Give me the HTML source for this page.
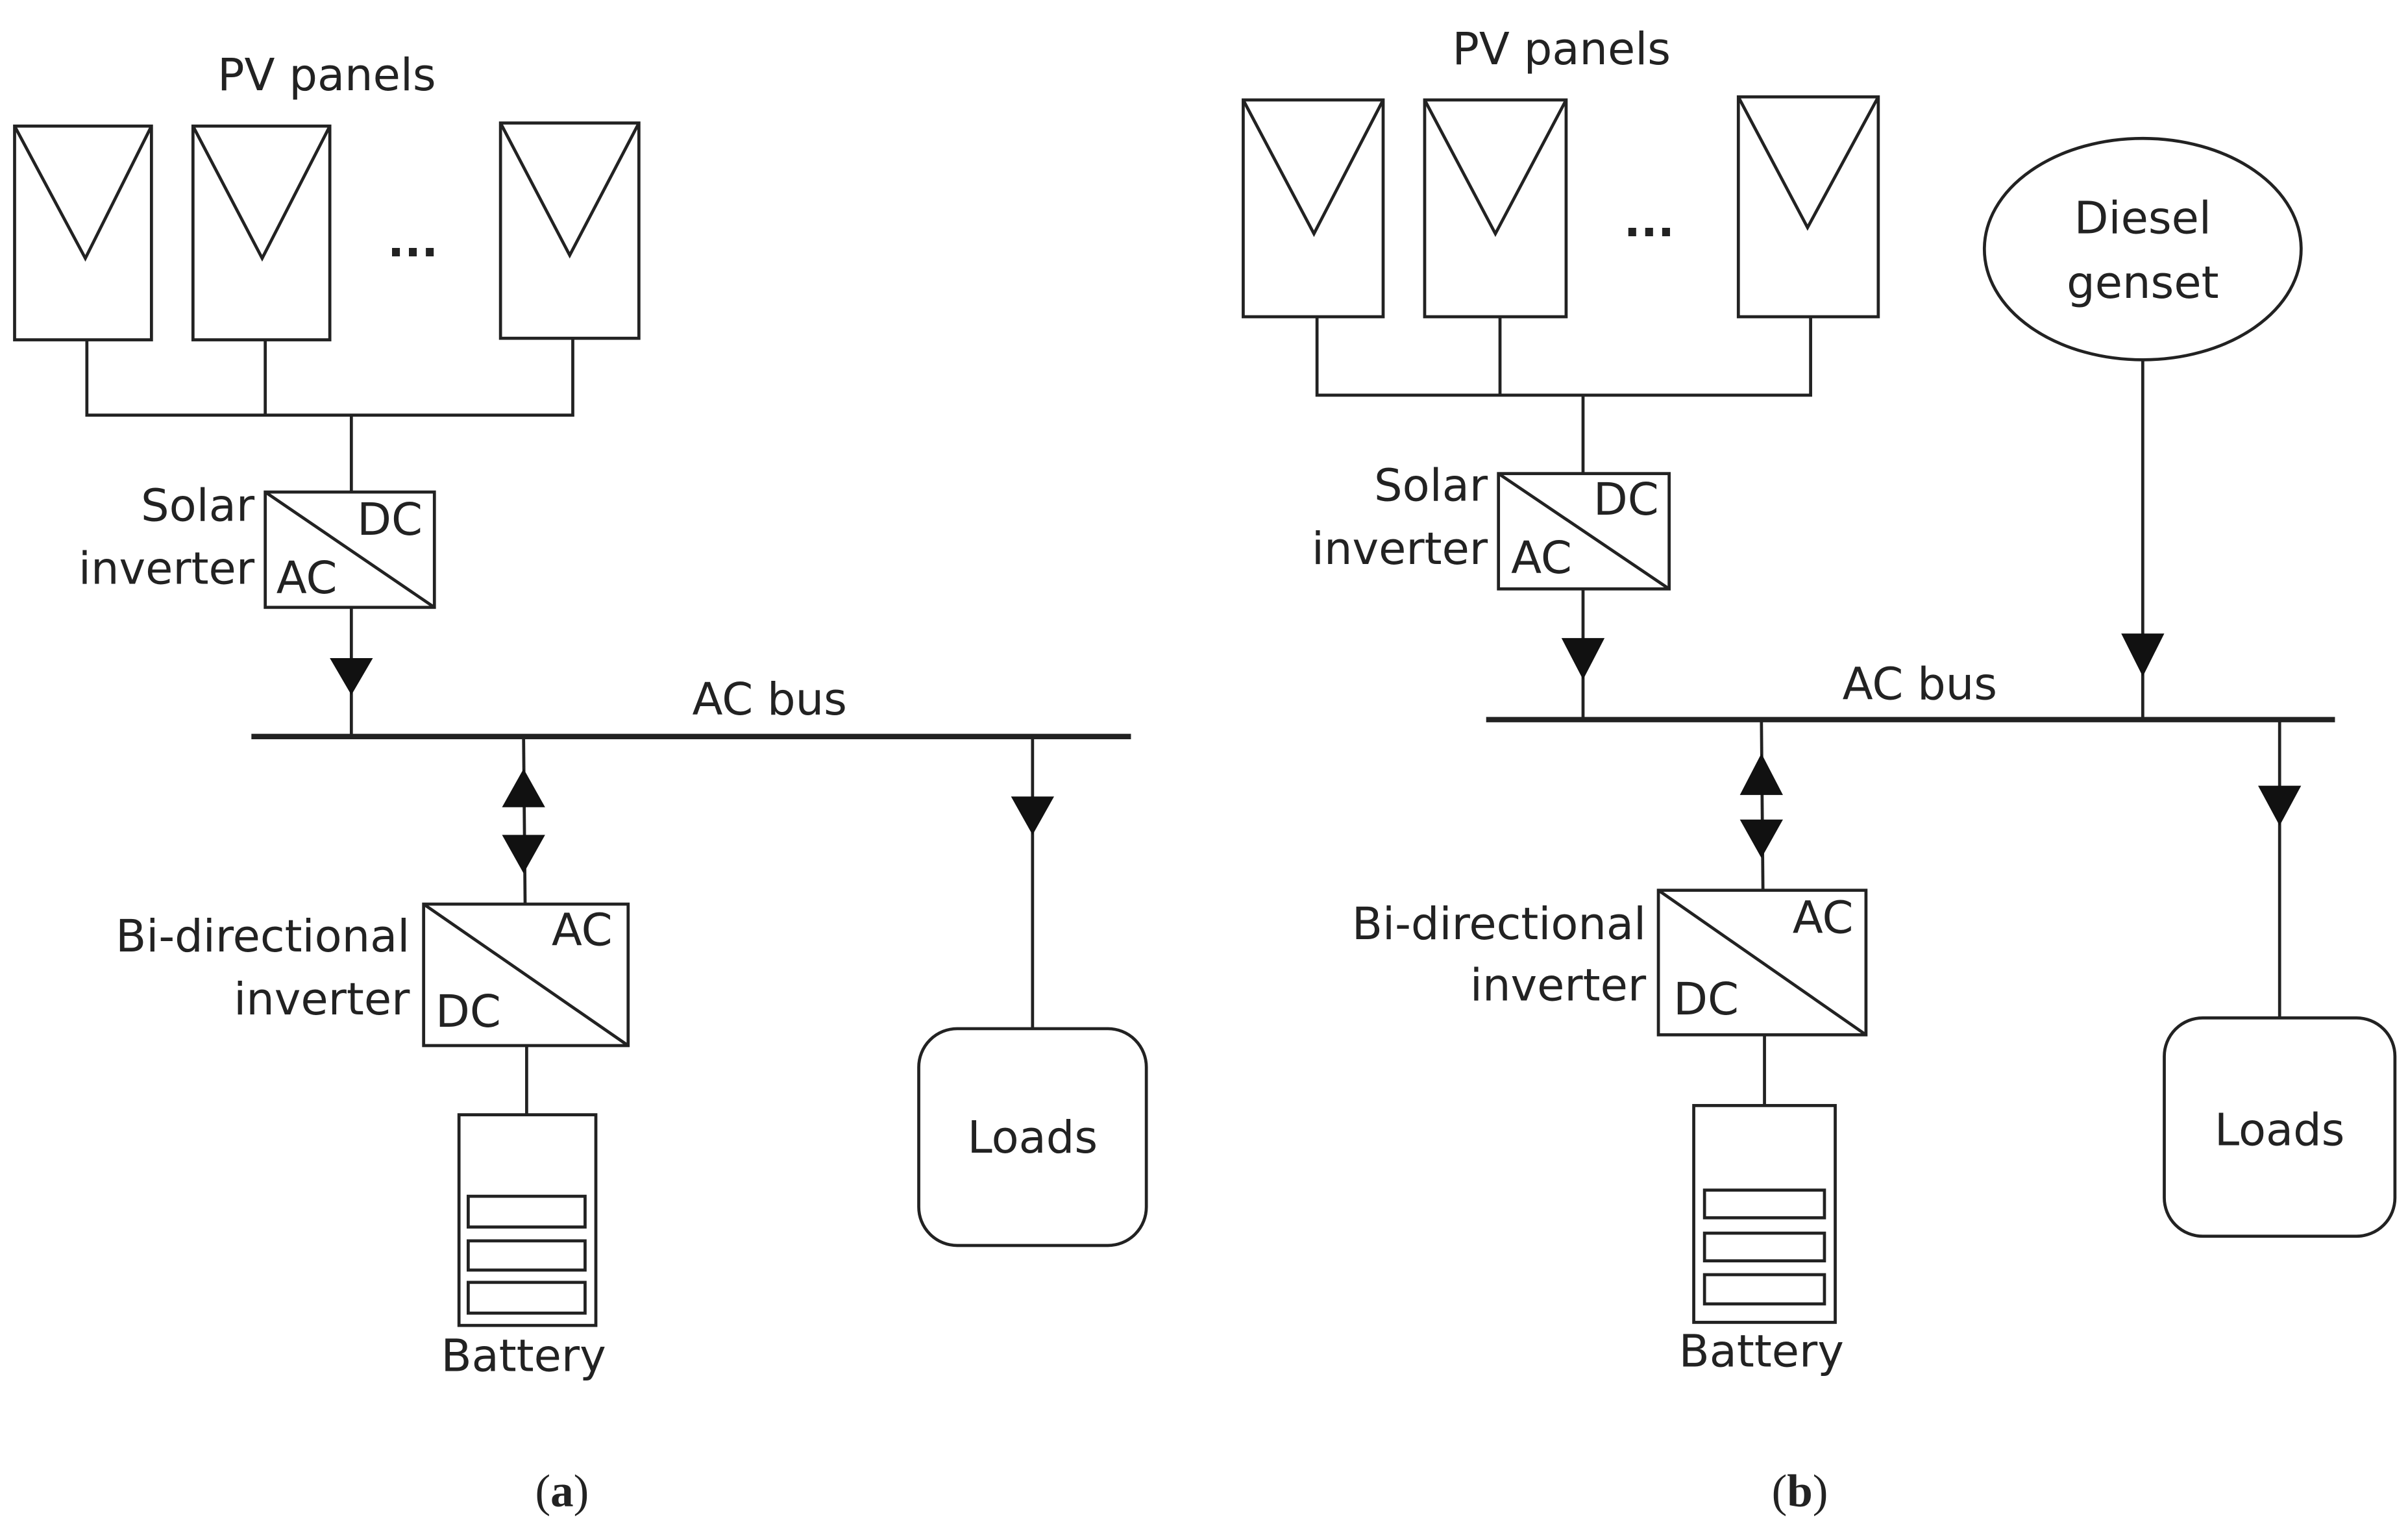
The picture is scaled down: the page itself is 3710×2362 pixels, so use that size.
<!DOCTYPE html>
<html><head><meta charset="utf-8"><style>html,body{margin:0;padding:0;background:#fff}svg{display:block}</style></head>
<body>
<svg width="3710" height="2362" viewBox="0 0 1565 997" xmlns="http://www.w3.org/2000/svg" font-family="'DejaVu Sans','Liberation Sans',sans-serif" font-size="29" fill="#222">
<g fill="none" stroke="#222" stroke-width="2">
<!-- LEFT -->
<rect x="9" y="82" width="89" height="139"/><polyline points="9,82 55,168 98,82"/>
<rect x="125" y="82" width="89" height="139"/><polyline points="125,82 170,168 214,82"/>
<rect x="325" y="80" width="90" height="140"/><polyline points="325,80 370,166 415,80"/>
<polyline points="56,221 56,270 372,270 372,220"/>
<line x1="172" y1="221" x2="172" y2="270"/>
<line x1="228" y1="270" x2="228" y2="320"/>
<rect x="172" y="320" width="110" height="75"/><line x1="172" y1="320" x2="282" y2="395"/>
<line x1="228" y1="395" x2="228" y2="479"/>
<line x1="163" y1="479" x2="735" y2="479" stroke-width="3.5"/>
<line x1="340" y1="479" x2="341" y2="588"/>
<rect x="275" y="588" width="133" height="92"/><line x1="275" y1="588" x2="408" y2="680"/>
<line x1="342" y1="680" x2="342" y2="725"/>
<rect x="298" y="725" width="89" height="137"/>
<rect x="304" y="778" width="76" height="20"/><rect x="304" y="807" width="76" height="19"/><rect x="304" y="834" width="76" height="20"/>
<line x1="671" y1="479" x2="671" y2="669"/>
<rect x="597" y="669" width="148" height="141" rx="25"/>
<!-- RIGHT -->
<rect x="808" y="65" width="91" height="141"/><polyline points="808,65 854,152 899,65"/>
<rect x="926" y="65" width="92" height="141"/><polyline points="926,65 972,152 1018,65"/>
<rect x="1130" y="63" width="91" height="143"/><polyline points="1130,63 1175,148 1221,63"/>
<polyline points="856,206 856,257 1177,257 1177,206"/>
<line x1="975" y1="206" x2="975" y2="257"/>
<line x1="1029" y1="257" x2="1029" y2="308"/>
<rect x="974" y="308" width="111" height="75"/><line x1="974" y1="308" x2="1085" y2="383"/>
<line x1="1029" y1="383" x2="1029" y2="468"/>
<line x1="966" y1="468" x2="1518" y2="468" stroke-width="3.5"/>
<ellipse cx="1393" cy="162" rx="103" ry="72"/>
<line x1="1393" y1="234" x2="1393" y2="468"/>
<line x1="1145" y1="468" x2="1146" y2="579"/>
<rect x="1078" y="579" width="135" height="94"/><line x1="1078" y1="579" x2="1213" y2="673"/>
<line x1="1147" y1="673" x2="1147" y2="719"/>
<rect x="1101" y="719" width="92" height="141"/>
<rect x="1108" y="774" width="78" height="18"/><rect x="1108" y="802" width="78" height="18"/><rect x="1108" y="829" width="78" height="19"/>
<line x1="1482" y1="468" x2="1482" y2="662"/>
<rect x="1407" y="662" width="150" height="142" rx="25"/>
</g>
<g fill="#111" stroke="none">
<polygon points="214,428 242,428 228,452"/>
<polygon points="340,500 326,525 354,525"/><polygon points="326,543 354,543 340,568"/>
<polygon points="657,518 685,518 671,543"/>
<polygon points="1015,415 1043,415 1029,442"/>
<polygon points="1379,412 1407,412 1393,440"/>
<polygon points="1145,490 1131,517 1159,517"/><polygon points="1131,533 1159,533 1145,558"/>
<polygon points="1468,511 1496,511 1482,537"/>
</g>
<g dominant-baseline="central">
<text x="212" y="49" text-anchor="middle">PV panels</text>
<text x="165" y="329" text-anchor="end">Solar</text>
<text x="165" y="370" text-anchor="end">inverter</text>
<text x="253" y="338" text-anchor="middle">DC</text>
<text x="199" y="376" text-anchor="middle">AC</text>
<text x="500" y="455" text-anchor="middle">AC bus</text>
<text x="266" y="609" text-anchor="end">Bi-directional</text>
<text x="266" y="650" text-anchor="end">inverter</text>
<text x="378" y="605" text-anchor="middle">AC</text>
<text x="304" y="658" text-anchor="middle">DC</text>
<text x="340" y="882" text-anchor="middle">Battery</text>
<text x="671" y="740" text-anchor="middle">Loads</text>
<text x="268" y="157" text-anchor="middle" font-weight="bold">...</text>
<text x="1015" y="32" text-anchor="middle">PV panels</text>
<text x="1072" y="144" text-anchor="middle" font-weight="bold">...</text>
<text x="967" y="316" text-anchor="end">Solar</text>
<text x="967" y="357" text-anchor="end">inverter</text>
<text x="1057" y="325" text-anchor="middle">DC</text>
<text x="1002" y="363" text-anchor="middle">AC</text>
<text x="1248" y="445" text-anchor="middle">AC bus</text>
<text x="1393" y="142" text-anchor="middle">Diesel</text>
<text x="1393" y="184" text-anchor="middle">genset</text>
<text x="1070" y="601" text-anchor="end">Bi-directional</text>
<text x="1070" y="641" text-anchor="end">inverter</text>
<text x="1185" y="597" text-anchor="middle">AC</text>
<text x="1109" y="650" text-anchor="middle">DC</text>
<text x="1145" y="879" text-anchor="middle">Battery</text>
<text x="1482" y="735" text-anchor="middle">Loads</text>
<text x="365" y="970" text-anchor="middle" font-family="'Liberation Serif',serif" font-size="30">(<tspan font-weight="bold">a</tspan>)</text>
<text x="1170" y="970" text-anchor="middle" font-family="'Liberation Serif',serif" font-size="30">(<tspan font-weight="bold">b</tspan>)</text>
</g>
</svg>
</body></html>
